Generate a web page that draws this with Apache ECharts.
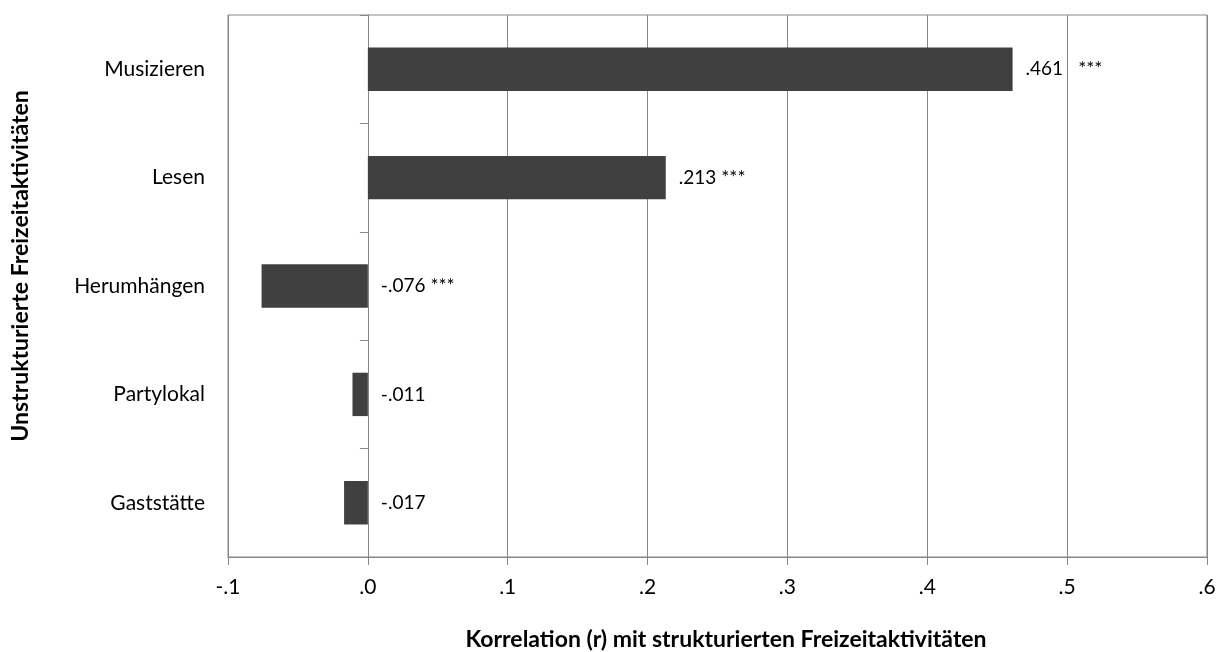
<!DOCTYPE html>
<html>
<head>
<meta charset="utf-8">
<script src="https://cdn.jsdelivr.net/npm/echarts@6/dist/echarts.min.js"></script>
<style>
html,body{margin:0;padding:0;background:#fff;}
#chart{width:1226px;height:652px;}
</style>
</head>
<body>
<div id="chart"></div>
<script>
const categories = ['Musizieren', 'Lesen', 'Herumhängen', 'Partylokal', 'Gaststätte'];
const values = [0.461, 0.213, -0.076, -0.011, -0.017];
const significance = ['***', '***', '***', '', ''];
const xTicks = { min: -0.1, max: 0.6, interval: 0.1 };
const xTitle = 'Korrelation (r) mit strukturierten Freizeitaktivitäten';
const yTitle = 'Unstrukturierte Freizeitaktivitäten';

const FONT = 'Lato, Carlito, sans-serif';
const GRID_C = '#878787';

function fmtTick(v) {
  let s = Math.abs(v) < 1e-9 ? '0.0' : v.toFixed(1);
  return s.replace(/^(-?)0\./, '$1.');
}
function fmtVal(v) {
  return v.toFixed(3).replace(/^(-?)0\./, '$1.');
}

const chart = echarts.init(document.getElementById('chart'));
chart.setOption({
  animation: false,
  textStyle: { fontFamily: FONT },
  graphic: [
    {
      type: 'text',
      x: 726, y: 640,
      style: {
        text: xTitle,
        textAlign: 'center', textVerticalAlign: 'middle',
        font: 'bold 23px ' + FONT, fill: '#000'
      }
    },
    {
      type: 'text',
      x: 21, y: 266,
      rotation: Math.PI / 2,
      style: {
        text: yTitle,
        textAlign: 'center', textVerticalAlign: 'middle',
        font: 'bold 23px ' + FONT, fill: '#000'
      }
    }
  ],
  grid: {
    left: 228, right: 19, top: 15, bottom: 95,
    show: true, borderColor: GRID_C, borderWidth: 1, backgroundColor: 'transparent'
  },
  xAxis: {
    type: 'value',
    min: xTicks.min, max: xTicks.max, interval: xTicks.interval,
    axisLine: { show: true, onZero: false, lineStyle: { color: GRID_C, width: 1 } },
    axisTick: { show: true, length: 8, inside: false, lineStyle: { color: GRID_C } },
    axisLabel: { formatter: v => fmtTick(v), fontSize: 21, color: '#000', margin: 20, fontFamily: FONT },
    splitLine: { show: true, lineStyle: { color: GRID_C, width: 1 } }
  },
  yAxis: [
    {
      type: 'category',
      data: categories,
      inverse: true,
      position: 'left',
      axisLine: { show: false, onZero: false },
      axisTick: { show: false },
      axisLabel: { fontSize: 21, color: '#000', margin: 23, fontFamily: FONT },
      splitLine: { show: false }
    },
    {
      type: 'category',
      data: categories,
      inverse: true,
      position: 'left',
      axisLine: { show: true, onZero: true, lineStyle: { color: GRID_C, width: 1 } },
      axisTick: { show: true, length: 8, lineStyle: { color: GRID_C } },
      axisLabel: { show: false },
      splitLine: { show: false }
    }
  ],
  series: [{
    type: 'bar',
    yAxisIndex: 0,
    data: values,
    barWidth: '40%',
    itemStyle: { color: '#404040' },
    label: {
      show: true,
      position: 'right',
      distance: 13,
      fontSize: 19,
      color: '#000',
      fontFamily: FONT,
      formatter: p => {
        const st = significance[p.dataIndex];
        if (!st) return fmtVal(p.value);
        return p.dataIndex === 0
          ? '{v|' + fmtVal(p.value) + '}{wide|' + st + '}'
          : '{v|' + fmtVal(p.value) + '}{s|' + st + '}';
      },
      rich: {
        v: { fontSize: 19, fontFamily: FONT, color: '#000' },
        s: { fontSize: 19, fontFamily: FONT, color: '#000', padding: [0, 0, 0, 5] },
        wide: { fontSize: 19, fontFamily: FONT, color: '#000', padding: [0, 0, 0, 15] }
      }
    }
  }]
});
</script>
</body>
</html>
